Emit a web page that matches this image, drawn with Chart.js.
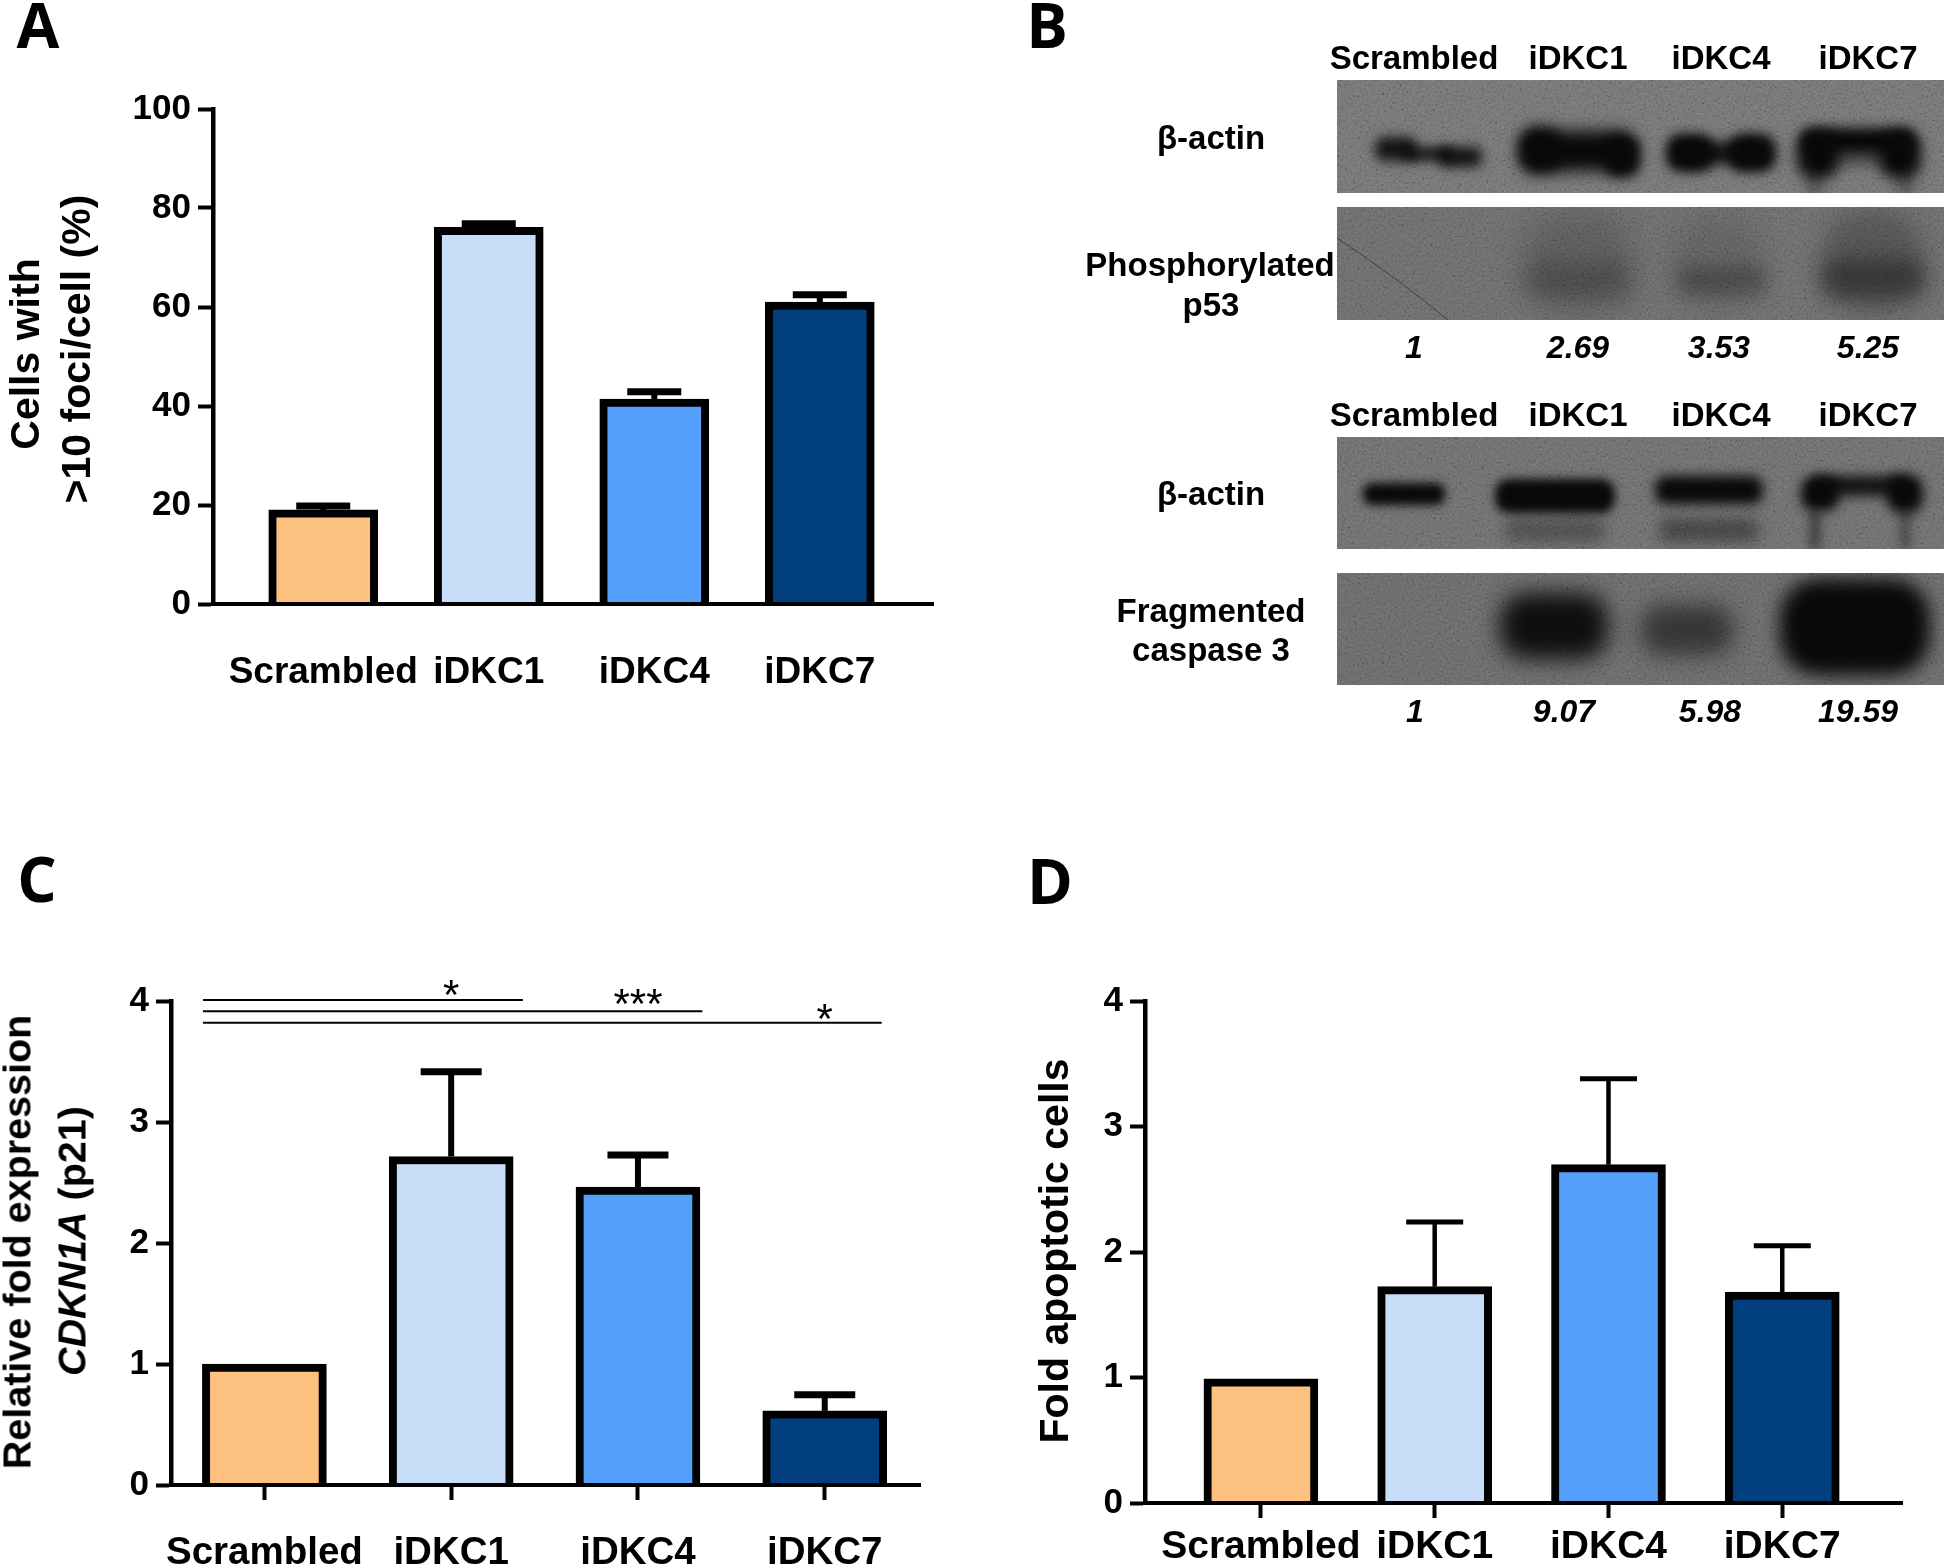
<!DOCTYPE html>
<html>
<head>
<meta charset="utf-8">
<title>iDKC panels</title>
<script src="https://cdn.jsdelivr.net/npm/chart.js@4"></script>
<style>
  html, body { margin: 0; background: #fff; }
  #page { position: relative; width: 1946px; height: 1565px; overflow: hidden; font-family: "Liberation Sans", sans-serif; color: #000; }
  canvas, svg { position: absolute; left: 0; top: 0; }
  .t { position: absolute; transform: translate(-50%, -50%); white-space: nowrap; font-weight: bold; }
  .letter { font-family: "Open Sans", sans-serif; font-size: 62px; }
  .blot { font-size: 33px; }
  .val { font-size: 32px; font-style: italic; }
  .ytitle { transform: translate(-50%, -50%) rotate(-90deg); font-size: 41px; }
  .ytitleC { font-size: 39.5px; }
</style>
</head>
<body>
<div id="page">
  <canvas id="blots" width="1946" height="1565"></canvas>
  <!-- film grain over the blots -->
  <svg width="1946" height="1565">
    <filter id="grainGrey" x="0" y="0" width="100%" height="100%">
      <feTurbulence type="fractalNoise" baseFrequency="0.45" numOctaves="2" seed="4"/>
      <feColorMatrix values="0.9 0.9 0.9 0 -0.85  0.9 0.9 0.9 0 -0.85  0.9 0.9 0.9 0 -0.85  0 0 0 0 1"/>
    </filter>
    <g filter="url(#grainGrey)" opacity="0.16" style="mix-blend-mode:overlay">
      <rect x="1337" y="80" width="607" height="605"/>
    </g>
    <rect x="1330" y="193" width="616" height="14" fill="#fff"/>
    <rect x="1330" y="320" width="616" height="117" fill="#fff"/>
    <rect x="1330" y="549" width="616" height="24" fill="#fff"/>
  </svg>
  <canvas id="chartA" width="1946" height="1565"></canvas>
  <canvas id="chartC" width="1946" height="1565"></canvas>
  <canvas id="chartD" width="1946" height="1565"></canvas>
</div>
<script>
const categories = ["Scrambled", "iDKC1", "iDKC4", "iDKC7"]
const barColors = ["#FDC17F", "#C8DDF8", "#549FFC", "#023F7F"]

const valuesA = [19, 76.1, 41.4, 61]
const capsA = [19.8, 76.8, 42.9, 62.5]
const ticksA = [0, 20, 40, 60, 80, 100]

const valuesC = [1, 2.715, 2.463, 0.612]
const capsC = [null, 3.415, 2.727, 0.746]
const sigEndsC = [1.384, 2.345, 3.305]
const sigLevelsC = [4.008, 3.916, 3.82]
const sigLabelsC = ["*", "***", "*"]
const sigLabelLevelsC = [4.03, 3.955, 3.83]

const valuesD = [0.99, 1.724, 2.696, 1.68]
const capsD = [null, 2.24, 3.38, 2.05]

const blotHeader = ["Scrambled", "iDKC1", "iDKC4", "iDKC7"]
const phosphoRatios = ["1", "2.69", "3.53", "5.25"]
const caspaseRatios = ["1", "9.07", "5.98", "19.59"]

const page = document.getElementById("page")

const addText = (text, x, y, cls) => {
  const el = document.createElement("div")
  el.className = "t " + cls
  el.style.left = x + "px"
  el.style.top = y + "px"
  el.innerHTML = text
  page.appendChild(el)
}

// error bars and the significance lines go through the chart scales
const errorBars = (caps, stem, capW, capH) => ({
  id: "errorBars",
  beforeDatasetsDraw(chart) {
    const { ctx, scales } = chart
    ctx.save()
    ctx.strokeStyle = "#000"
    caps.forEach((cap, i) => {
      if (cap === null) return
      const x = scales.x.getPixelForValue(i)
      const yCap = scales.y.getPixelForValue(cap)
      ctx.lineWidth = stem
      ctx.beginPath()
      ctx.moveTo(x, scales.y.getPixelForValue(chart.data.datasets[0].data[i].y))
      ctx.lineTo(x, yCap)
      ctx.stroke()
      ctx.lineWidth = capH
      ctx.beginPath()
      ctx.moveTo(x - capW / 2, yCap)
      ctx.lineTo(x + capW / 2, yCap)
      ctx.stroke()
    })
    ctx.restore()
  }
})

const significance = {
  id: "significance",
  afterDatasetsDraw(chart) {
    const { ctx, scales } = chart
    ctx.save()
    ctx.strokeStyle = "#000"
    ctx.fillStyle = "#000"
    ctx.lineWidth = 2
    ctx.font = "42px 'Liberation Sans'"
    ctx.textAlign = "center"
    ctx.textBaseline = "middle"
    sigEndsC.forEach((end, i) => {
      const y = scales.y.getPixelForValue(sigLevelsC[i])
      ctx.beginPath()
      ctx.moveTo(scales.x.getPixelForValue(-0.329), y)
      ctx.lineTo(scales.x.getPixelForValue(end), y)
      ctx.stroke()
      ctx.fillText(sigLabelsC[i], scales.x.getPixelForValue(i + 1), scales.y.getPixelForValue(sigLabelLevelsC[i]))
    })
    ctx.restore()
  }
}

const barPanel = (id, o) => new Chart(document.getElementById(id), {
  type: "bar",
  data: {
    datasets: [{
      data: o.values.map((v, i) => ({ x: i, y: v })),
      backgroundColor: barColors,
      borderColor: "#000",
      borderWidth: 8,
      borderSkipped: "bottom",
      barThickness: o.barW
    }]
  },
  options: {
    responsive: false,
    animation: false,
    layout: { padding: { top: o.top, right: 1946 - o.right, left: 0, bottom: 0 } },
    plugins: { legend: { display: false }, tooltip: { enabled: false } },
    scales: {
      x: {
        type: "linear",
        offset: false,
        min: o.xMin,
        max: o.xMax,
        afterBuildTicks: axis => { axis.ticks = categories.map((c, i) => ({ value: i })) },
        afterFit: axis => { axis.height = 1565 - o.bottom },
        border: { color: "#000", width: 4, z: 1 },
        grid: { offset: false, drawOnChartArea: false, drawTicks: o.xTicks, tickLength: 15, tickWidth: 4, tickColor: "#000" },
        ticks: {
          callback: v => categories[v],
          autoSkip: false, maxRotation: 0, color: "#000", padding: o.labelPad,
          font: { family: "Liberation Sans", weight: "bold", size: o.labelSize }
        }
      },
      y: {
        min: 0,
        max: o.yMax,
        afterFit: axis => { axis.width = o.left },
        border: { color: "#000", width: 4.5 },
        grid: { drawOnChartArea: false, tickLength: 15, tickWidth: 4, tickColor: "#000" },
        ticks: {
          stepSize: o.yStep, color: "#000", padding: 7,
          font: { family: "Liberation Sans", weight: "bold", size: 35 }
        }
      }
    }
  },
  plugins: o.plugins
})

barPanel("chartA", {
  values: valuesA, left: 213, right: 933, top: 109, bottom: 604, yMax: ticksA[ticksA.length - 1], yStep: 20,
  xMin: -0.666, xMax: 3.684, barW: 109, xTicks: false, labelPad: 47, labelSize: 37,
  plugins: [errorBars(capsA, 6, 54, 7)]
})
barPanel("chartC", {
  values: valuesC, left: 171, right: 920, top: 1001, bottom: 1485, yMax: 4, yStep: 1,
  xMin: -0.5, xMax: 3.51, barW: 124, xTicks: true, labelPad: 30, labelSize: 38.5,
  plugins: [errorBars(capsC, 6, 61, 7), significance]
})
barPanel("chartD", {
  values: valuesD, left: 1145, right: 1902, top: 1001, bottom: 1503, yMax: 4, yStep: 1,
  xMin: -0.667, xMax: 3.689, barW: 114, xTicks: true, labelPad: 6, labelSize: 39,
  plugins: [errorBars(capsD, 4.5, 57, 5)]
})

// panel B, the western blot photographs
const drawBlot = (top, height, grey, bands) => {
  const ctx = document.getElementById("blots").getContext("2d")
  ctx.save()
  ctx.beginPath()
  ctx.rect(1337, top, 607, height)
  ctx.clip()
  ctx.fillStyle = grey
  ctx.fillRect(1337, top, 607, height)
  bands.forEach(b => {
    ctx.filter = `blur(${b[5]}px)`
    ctx.fillStyle = `rgba(8,8,8,${b[4]})`
    ctx.beginPath()
    ctx.roundRect(b[0] - b[2] / 2, b[1] - b[3] / 2, b[2], b[3], Math.min(b[2], b[3]) * 0.4)
    ctx.fill()
  })
  ctx.restore()
}

// bands: centre x, centre y, width, height, darkness, blur
drawBlot(80, 113, "#727272", [
  [1396, 149, 42, 24, 0.9, 6], [1460, 157, 44, 20, 0.9, 6], [1428, 154, 50, 16, 0.75, 5],
  [1578, 151, 112, 40, 1, 8], [1622, 156, 36, 42, 1, 6], [1540, 150, 42, 44, 1, 7],
  [1690, 153, 48, 38, 1, 6], [1752, 153, 48, 38, 1, 6], [1721, 153, 90, 22, 0.9, 6],
  [1858, 141, 114, 26, 1, 6], [1818, 155, 42, 46, 1, 7], [1900, 155, 42, 46, 1, 7],
  [1858, 158, 60, 14, 0.45, 7],
  [1815, 182, 16, 30, 0.3, 6], [1905, 182, 16, 30, 0.3, 6]
])
drawBlot(207, 113, "#6a6a6a", [
  [1578, 262, 110, 100, 0.16, 14], [1578, 280, 105, 36, 0.22, 10],
  [1717, 262, 90, 90, 0.12, 12], [1722, 280, 90, 30, 0.26, 8],
  [1873, 262, 100, 100, 0.26, 12], [1873, 278, 105, 38, 0.38, 9]
])
drawBlot(437, 112, "#6c6c6c", [
  [1404, 494, 82, 22, 1, 5],
  [1555, 496, 120, 34, 1, 5], [1555, 530, 100, 24, 0.3, 7],
  [1709, 490, 108, 28, 1, 6], [1709, 530, 100, 24, 0.4, 7],
  [1860, 486, 100, 20, 0.9, 6], [1820, 494, 38, 34, 1, 6], [1905, 494, 36, 38, 1, 6],
  [1815, 530, 12, 40, 0.45, 5], [1905, 530, 12, 40, 0.35, 5]
])
drawBlot(573, 112, "#686868", [
  [1554, 626, 108, 66, 0.95, 11],
  [1687, 630, 92, 50, 0.55, 11],
  [1855, 627, 150, 96, 1, 9]
])
{
  const ctx = document.getElementById("blots").getContext("2d")
  ctx.strokeStyle = "#3c3c3c"
  ctx.lineWidth = 1
  ctx.beginPath()
  ctx.moveTo(1337, 238)
  ctx.quadraticCurveTo(1400, 280, 1448, 320)
  ctx.stroke()
}

const headerX = [1414, 1578, 1721, 1868]
blotHeader.forEach((h, i) => {
  addText(h, headerX[i], 58, "blot")
  addText(h, headerX[i], 415, "blot")
})
const phosphoX = [1414, 1578, 1719, 1868]
const caspaseX = [1415, 1564, 1710, 1858]
phosphoRatios.forEach((r, i) => addText(r, phosphoX[i], 347, "val"))
caspaseRatios.forEach((r, i) => addText(r, caspaseX[i], 711, "val"))
addText("β-actin", 1211, 138, "blot")
addText("Phosphorylated", 1210, 265, "blot")
addText("p53", 1211, 305, "blot")
addText("β-actin", 1211, 494, "blot")
addText("Fragmented", 1211, 611, "blot")
addText("caspase 3", 1211, 650, "blot")

addText("A", 38, 24, "letter")
addText("B", 1047, 24, "letter")
addText("C", 37, 878, "letter")
addText("D", 1050, 880, "letter")

addText("Cells with", 25, 354, "ytitle")
addText("&gt;10 foci/cell (%)", 76, 349, "ytitle")
addText("Relative fold expression", 17, 1242, "ytitle ytitleC")
addText("<i>CDKN1A</i> (p21)", 72, 1241, "ytitle ytitleC")
addText("Fold apoptotic cells", 1054, 1251, "ytitle")
</script>
</body>
</html>
